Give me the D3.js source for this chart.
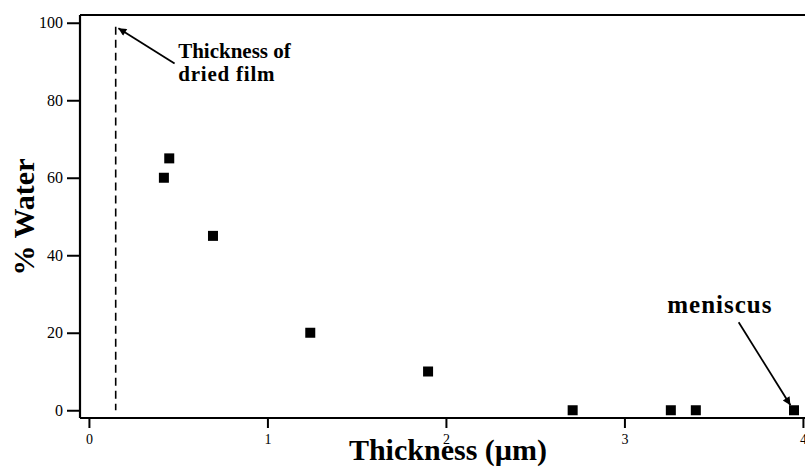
<!DOCTYPE html>
<html>
<head>
<meta charset="utf-8">
<script src="https://cdn.jsdelivr.net/npm/d3@7"></script>
<style>
  html, body { margin: 0; padding: 0; background: #fff; }
  svg { display: block; }
</style>
</head>
<body>
<svg id="chart" width="805" height="468"></svg>
<script>
// ---- data ----
const thickness = [0.42, 0.45, 0.695, 1.24, 1.90, 2.71, 3.26, 3.40, 3.95];
const water     = [60, 65, 45, 20, 10, 0, 0, 0, 0];
const xTicks = [0, 1, 2, 3, 4];
const yTicks = [0, 20, 40, 60, 80, 100];
const driedFilmThickness = 0.15;
const xLabel = "Thickness (\u00B5m)";
const yLabel = "% Water";
const annoDried = ["Thickness of", "dried film"];
const annoMeniscus = "meniscus";

// ---- layout ----
const svg = d3.select("#chart");
const mLeft = 80, mTop = 15, mBottom = 418;
const x = d3.scaleLinear().domain([-0.05, 4.06]).range([mLeft, mLeft + 4.11 * 178.5]);
const y = d3.scaleLinear().domain([-2, 102]).range([mBottom, mTop]);
const serif = "'Liberation Serif', 'Times New Roman', serif";

// frame top line
svg.append("line")
  .attr("x1", mLeft).attr("x2", 805).attr("y1", mTop).attr("y2", mTop)
  .attr("stroke", "#000").attr("stroke-width", 2);

// axes
const xAxis = svg.append("g").attr("transform", `translate(0,${mBottom})`)
  .call(d3.axisBottom(x).tickValues(xTicks).tickFormat(d3.format("d")).tickSizeOuter(0).tickSize(10).tickPadding(6));
const yAxis = svg.append("g").attr("transform", `translate(${mLeft},0)`)
  .call(d3.axisLeft(y).tickValues(yTicks).tickSizeOuter(0).tickSize(13).tickPadding(4));

xAxis.select(".domain").attr("d", `M${mLeft},0H805`);
yAxis.select(".domain").attr("d", `M0,${mTop}V${mBottom}`);
[xAxis, yAxis].forEach(g => {
  g.select(".domain").attr("stroke", "#000").attr("stroke-width", 2.2);
  g.selectAll(".tick line").attr("stroke", "#000").attr("stroke-width", 2);
});
xAxis.selectAll(".tick text").attr("font-family", serif).attr("font-size", 14).attr("fill", "#000");
yAxis.selectAll(".tick text").attr("font-family", serif).attr("font-size", 16).attr("fill", "#000");

// dashed line (dried film thickness)
svg.append("line")
  .attr("x1", x(driedFilmThickness)).attr("x2", x(driedFilmThickness))
  .attr("y1", y(99)).attr("y2", y(0))
  .attr("stroke", "#000").attr("stroke-width", 1.6)
  .attr("stroke-dasharray", "8,5");

// points
const sz = 10;
svg.append("g").selectAll("rect")
  .data(thickness.map((t, i) => [t, water[i]]))
  .join("rect")
  .attr("x", d => x(d[0]) - sz / 2)
  .attr("y", d => y(d[1]) - sz / 2)
  .attr("width", sz).attr("height", sz)
  .attr("fill", "#000");

// arrow marker
const defs = svg.append("defs");
defs.append("marker")
  .attr("id", "arrow").attr("viewBox", "0 0 10 10")
  .attr("refX", 10).attr("refY", 5)
  .attr("markerWidth", 12).attr("markerHeight", 8)
  .attr("markerUnits", "userSpaceOnUse")
  .attr("orient", "auto")
  .append("path").attr("d", "M0,0L10,5L0,10z").attr("fill", "#000");

// annotation: dried film
svg.append("line")
  .attr("x1", x(0.48)).attr("y1", y(89.5))
  .attr("x2", x(0.165)).attr("y2", y(98.6))
  .attr("stroke", "#000").attr("stroke-width", 1.8)
  .attr("marker-end", "url(#arrow)");
const dt = svg.append("text")
  .attr("font-family", serif).attr("font-weight", "bold").attr("font-size", 21)
  .attr("fill", "#000");
dt.append("tspan").attr("x", x(0.5)).attr("y", y(91)).text(annoDried[0]);
dt.append("tspan").attr("x", x(0.5)).attr("y", y(85)).attr("letter-spacing", 0.8).text(annoDried[1]);

// annotation: meniscus
svg.append("text")
  .attr("x", x(3.24)).attr("y", y(25))
  .attr("font-family", serif).attr("font-weight", "bold").attr("font-size", 25)
  .attr("letter-spacing", 1)
  .attr("fill", "#000").text(annoMeniscus);
svg.append("line")
  .attr("x1", x(3.64)).attr("y1", y(22.7))
  .attr("x2", x(3.93)).attr("y2", y(1.3))
  .attr("stroke", "#000").attr("stroke-width", 1.8)
  .attr("marker-end", "url(#arrow)");

// axis titles
svg.append("text")
  .attr("x", 448).attr("y", 460).attr("text-anchor", "middle")
  .attr("font-family", serif).attr("font-weight", "bold").attr("font-size", 30)
  .attr("fill", "#000").text(xLabel);
svg.append("text")
  .attr("transform", "translate(34,217) rotate(-90)").attr("text-anchor", "middle")
  .attr("font-family", serif).attr("font-weight", "bold").attr("font-size", 30)
  .attr("fill", "#000").text(yLabel);
</script>
</body>
</html>
